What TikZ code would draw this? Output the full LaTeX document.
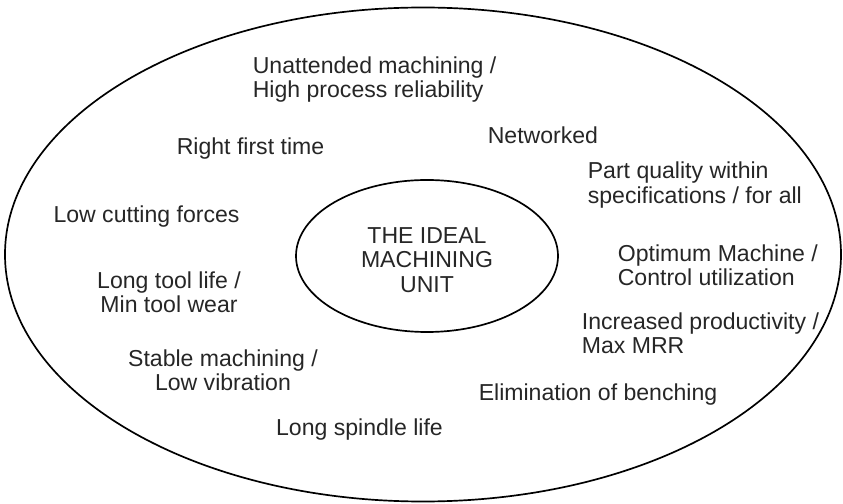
\documentclass[tikz,border=0pt]{standalone}
\usepackage{fontspec}
\setmainfont{Liberation Sans}
\begin{document}
\begin{tikzpicture}[x=0.025cm, y=-0.025cm, line join=round, line cap=round, line width=1.2,
	lbl/.style={inner sep=0, text=black!85, font=\fontsize{16.4}{17.2}\selectfont}]
	\useasboundingbox (0,0) rectangle (843,504);
	% the two rings
	\draw (423,254.5) ellipse [x radius=418, y radius=247];
	\draw (427,256) ellipse [x radius=131, y radius=76];
	\node[lbl,align=center] (unit) at (427,260) {THE IDEAL\\MACHINING\\UNIT};
	% upper half
	\node[lbl,align=left,anchor=west] (unattended) at (252,79.5) {Unattended machining /\\High process reliability};
	\node[lbl,anchor=west] (networked) at (487,135) {Networked};
	\node[lbl] (rightfirst) at (250.5,149) {Right first time};
	\node[lbl,align=left,anchor=west] (partquality) at (587,185) {Part quality within\\specifications / for all};
	\node[lbl] (lowforces) at (146.5,217) {Low cutting forces};
	% lower half
	\node[lbl,align=left,anchor=west] (optimum) at (617,265.5) {Optimum Machine /\\Control utilization};
	\node[lbl,align=center] (toollife) at (169,292) {Long tool life /\\Min tool wear};
	\node[lbl,align=left,anchor=west] (productivity) at (581,333.5) {Increased productivity /\\Max MRR};
	\node[lbl,align=center] (stable) at (223,370) {Stable machining /\\Low vibration};
	\node[lbl] (benching) at (598,395) {Elimination of benching};
	\node[lbl] (spindle) at (359.5,430) {Long spindle life};
\end{tikzpicture}
\end{document}
